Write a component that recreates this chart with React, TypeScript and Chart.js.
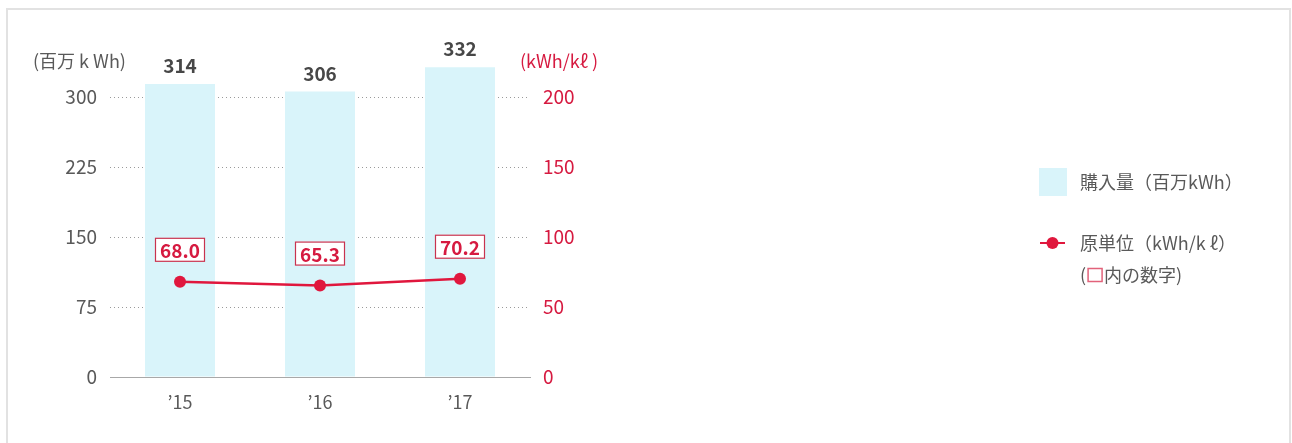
import React, { useEffect, useRef } from "react";
import { Chart, registerables } from "chart.js";

Chart.register(...registerables);

const categories = ["’15", "’16", "’17"];
const purchaseValues = [314, 306, 332];
const intensityValues = [68.0, 65.3, 70.2];
const leftTicks = [0, 75, 150, 225, 300];
const rightTicks = [0, 50, 100, 150, 200];
const leftTitle = "(百万 k Wh)";
const rightTitle = "(kWh/kℓ )";
const legendBar = "購入量（百万kWh）";
const legendLine = "原単位（kWh/k ℓ）";
const legendNoteOpen = "(";
const legendNoteRest = "内の数字)";

const FONT = '"Noto Sans CJK JP", "Noto Sans", sans-serif';
const RED = "#e0173d";
const RED_TEXT = "#d61a40";
const GRAY = "#595959";
const BAR = "#d9f4fa";

const overlayPlugin = {
  id: "overlay",
  afterDatasetsDraw(chart: any) {
    const ctx = chart.ctx;
    ctx.save();
    const barMeta = chart.getDatasetMeta(0);
    ctx.font = `bold 19px ${FONT}`;
    ctx.fillStyle = "#474747";
    ctx.textAlign = "center";
    ctx.textBaseline = "middle";
    barMeta.data.forEach((el: any, i: number) => {
      ctx.fillText(String(purchaseValues[i]), el.x, el.y - 18);
    });
    const lineMeta = chart.getDatasetMeta(1);
    ctx.font = `bold 19px ${FONT}`;
    lineMeta.data.forEach((el: any, i: number) => {
      const txt = intensityValues[i].toFixed(1);
      const w = 50;
      const h = 24;
      const cx = el.x;
      const cy = el.y - 32;
      ctx.fillStyle = "#ffffff";
      ctx.fillRect(cx - w / 2, cy - h / 2, w, h);
      ctx.strokeStyle = "#c8334f";
      ctx.lineWidth = 1.2;
      ctx.strokeRect(cx - w / 2 + 0.5, cy - h / 2 + 0.5, w - 1, h - 1);
      ctx.fillStyle = RED_TEXT;
      ctx.fillText(txt, cx, cy + 1);
    });
    ctx.restore();
  },
  afterDraw(chart: any) {
    const ctx = chart.ctx;
    ctx.save();
    ctx.textBaseline = "middle";
    ctx.textAlign = "left";
    ctx.font = `18px ${FONT}`;
    ctx.fillStyle = GRAY;
    ctx.fillText(leftTitle, 25, 51);
    ctx.fillStyle = RED_TEXT;
    ctx.fillText(rightTitle, 512, 51);
    // legend
    ctx.fillStyle = BAR;
    ctx.fillRect(1031, 158, 28, 28);
    ctx.font = `18px ${FONT}`;
    ctx.fillStyle = GRAY;
    ctx.fillText(legendBar, 1072, 172);
    ctx.strokeStyle = RED;
    ctx.lineWidth = 2;
    ctx.beginPath();
    ctx.moveTo(1032, 233);
    ctx.lineTo(1057, 233);
    ctx.stroke();
    ctx.fillStyle = RED;
    ctx.beginPath();
    ctx.arc(1044.5, 233, 6, 0, Math.PI * 2);
    ctx.fill();
    ctx.fillStyle = GRAY;
    ctx.fillText(legendLine, 1072, 233);
    ctx.fillText(legendNoteOpen, 1072, 265);
    const ow = ctx.measureText(legendNoteOpen).width;
    ctx.strokeStyle = "#e2627a";
    ctx.lineWidth = 1.5;
    ctx.strokeRect(1072 + ow + 2, 258.5, 14, 13);
    ctx.fillText(legendNoteRest, 1072 + ow + 18, 265);
    ctx.restore();
  },
};

export default function App() {
  const ref = useRef<HTMLCanvasElement | null>(null);
  useEffect(() => {
    if (!ref.current) return;
    const chart = new Chart(ref.current, {
      type: "bar",
      data: {
        labels: categories,
        datasets: [
          {
            type: "bar",
            data: purchaseValues,
            backgroundColor: BAR,
            borderWidth: 0,
            barPercentage: 0.5,
            categoryPercentage: 1,
            yAxisID: "y",
            order: 2,
          },
          {
            type: "line",
            data: intensityValues,
            borderColor: RED,
            backgroundColor: RED,
            borderWidth: 2.5,
            pointRadius: 6,
            pointBackgroundColor: RED,
            pointBorderWidth: 0,
            yAxisID: "y1",
            order: 1,
          } as any,
        ],
      },
      options: {
        responsive: false,
        animation: false,
        layout: { padding: { left: 0, right: 700, top: 45, bottom: 23 } },
        plugins: { legend: { display: false }, tooltip: { enabled: false } },
        scales: {
          x: {
            grid: { display: false, drawTicks: false },
            border: { display: true, color: "#a8a8a8", width: 1 },
            ticks: { color: GRAY, font: { family: FONT, size: 18 }, padding: 14 },
            afterFit(scale: any) {
              scale.height = 40;
            },
          },
          y: {
            position: "left",
            min: 0,
            max: 345,
            afterBuildTicks(scale: any) {
              scale.ticks = leftTicks.map((v) => ({ value: v }));
            },
            afterFit(scale: any) {
              scale.width = 102;
            },
            border: { display: false, dash: [1, 3] },
            grid: {
              drawTicks: false,
              color: (c: any) => (c.tick && c.tick.value === 0 ? "rgba(0,0,0,0)" : "#9a9a9a"),
              lineWidth: 1,
            },
            ticks: { color: GRAY, font: { family: FONT, size: 19 }, padding: 13 },
          },
          y1: {
            position: "right",
            min: 0,
            max: 230,
            afterBuildTicks(scale: any) {
              scale.ticks = rightTicks.map((v) => ({ value: v }));
            },
            afterFit(scale: any) {
              scale.width = 58;
            },
            border: { display: false },
            grid: { display: false, drawTicks: false },
            ticks: { color: RED_TEXT, font: { family: FONT, size: 19 }, padding: 13 },
          },
        },
      } as any,
      plugins: [overlayPlugin],
    });
    return () => chart.destroy();
  }, []);
  return (
    <div
      style={{
        position: "absolute",
        left: 6,
        top: 8,
        width: 1285,
        height: 440,
        border: "2px solid #e2e2e2",
        boxSizing: "border-box",
        background: "#fff",
      }}
    >
      <canvas ref={ref} width={1280} height={430} style={{ display: "block", width: 1280, height: 430 }} />
    </div>
  );
}
